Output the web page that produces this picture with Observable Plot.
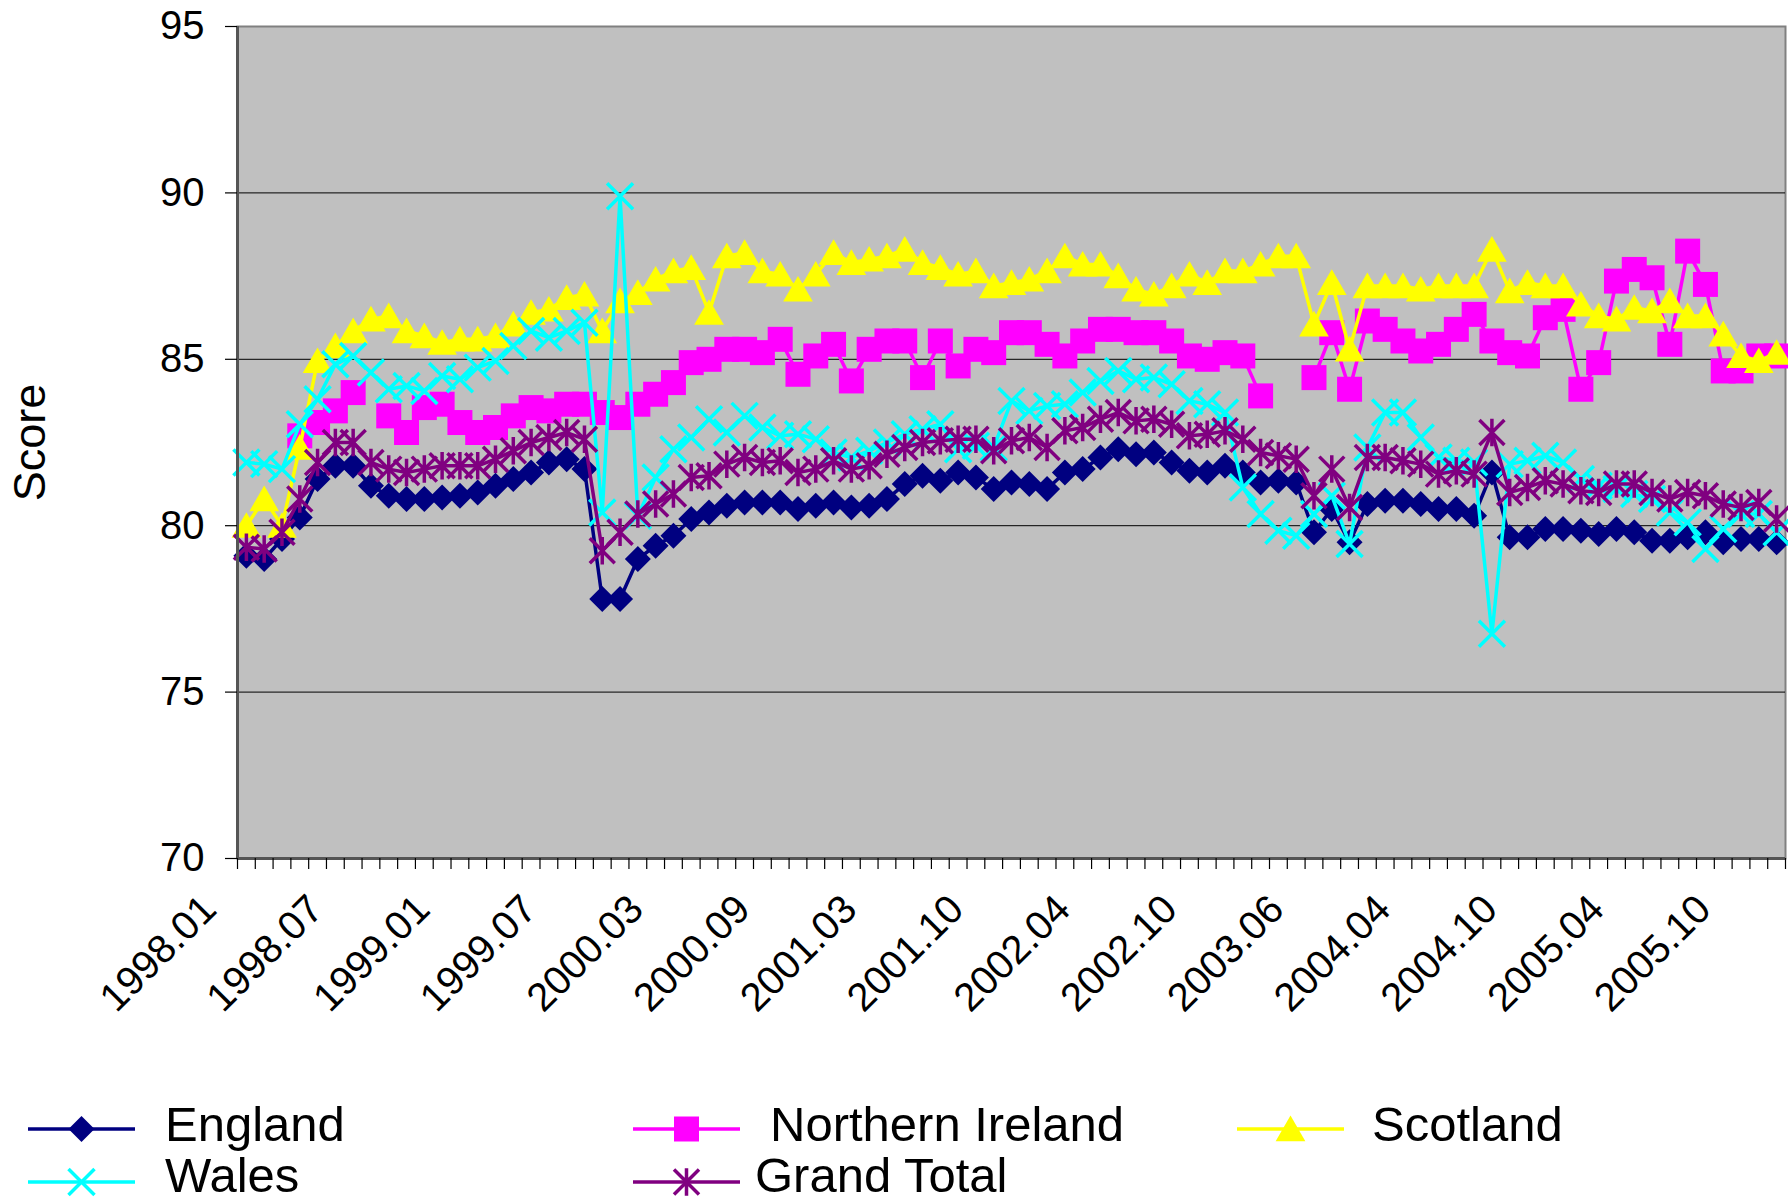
<!DOCTYPE html>
<html>
<head>
<meta charset="utf-8">
<script src="https://cdn.jsdelivr.net/npm/d3@7"></script>
<script src="https://cdn.jsdelivr.net/npm/@observablehq/plot@0.6"></script>
<style>
  html, body { margin: 0; padding: 0; background: #fff; }
  #wrap { width: 1788px; }
  svg { display: block; }
</style>
</head>
<body>
<div id="wrap"></div>
<script>
// ---------- data ----------
const months = [
  "1998.01","1998.02","1998.03","1998.04","1998.05","1998.06","1998.07","1998.08","1998.09","1998.10","1998.11","1998.12",
  "1999.01","1999.02","1999.03","1999.04","1999.05","1999.06","1999.07",
  "1999.08","1999.09","1999.10","1999.11","1999.12",
  "2000.03","2000.04","2000.05","2000.06","2000.07","2000.08","2000.09","2000.10","2000.11","2000.12","2001.01","2001.02","2001.03",
  "2001.04","2001.05","2001.06","2001.07","2001.09",
  "2001.10","2001.11","2001.12","2002.01","2002.02","2002.03","2002.04","2002.05","2002.06","2002.07","2002.08","2002.09","2002.10",
  "2002.11","2002.12","2003.01","2003.02","2003.03",
  "2003.06",
  "2003.07","2003.10","2004.01","2004.02","2004.03",
  "2004.04","2004.05","2004.06","2004.07","2004.08","2004.09","2004.10","2004.11","2004.12",
  "2005.01","2005.02","2005.03","2005.04","2005.05","2005.06","2005.07","2005.08","2005.09","2005.10","2005.11","2005.12"
];
const xTickLabels = ["1998.01","1998.07","1999.01","1999.07","2000.03","2000.09","2001.03","2001.10",
  "2002.04","2002.10","2003.06","2004.04","2004.10","2005.04","2005.10"];
const yTicks = [70, 75, 80, 85, 90, 95];
const seriesNames = ["England", "Northern Ireland", "Scotland", "Wales", "Grand Total"];

const england = [79.1, 79.0, 79.6, 80.25, 81.4, 81.8, 81.8, 81.2, 80.9, 80.8,
  80.8, 80.85, 80.9, 81.0, 81.2, 81.4, 81.6, 81.9, 82.0, 81.7,
  77.8, 77.8, 79.0, 79.4, 79.7, 80.2, 80.4, 80.6, 80.7, 80.7,
  80.7, 80.5, 80.6, 80.7, 80.55, 80.6, 80.8, 81.25, 81.5, 81.35,
  81.6, 81.45, 81.1, 81.3, 81.25, 81.1, 81.6, 81.7, 82.05, 82.3,
  82.15, 82.2, 81.9, 81.65, 81.6, 81.8, 81.6, 81.3, 81.35, 81.3,
  79.8, 80.5, 79.5, 80.65, 80.75, 80.75, 80.65, 80.5, 80.5, 80.3,
  81.6, 79.65, 79.65, 79.9, 79.9, 79.85, 79.75, 79.9, 79.8, 79.55,
  79.55, 79.65, 79.8, 79.5, 79.6, 79.6, 79.5];
const northernIreland = [null, null, null, 82.7, 83.1, 83.45, 84.0, null, 83.3, 82.8,
  83.55, 83.65, 83.1, 82.8, 82.95, 83.3, 83.55, 83.45, 83.65, 83.65,
  83.4, 83.25, 83.65, 83.95, 84.3, 84.9, 85.0, 85.3, 85.3, 85.2,
  85.6, 84.55, 85.1, 85.45, 84.35, 85.3, 85.55, 85.55, 84.45, 85.55,
  84.8, 85.3, 85.2, 85.8, 85.8, 85.45, 85.1, 85.55, 85.9, 85.9,
  85.8, 85.8, 85.55, 85.1, 85.0, 85.2, 85.1, 83.9, null, null,
  84.45, 85.8, 84.1, 86.15, 85.9, 85.55, 85.25, 85.45, 85.9, 86.35,
  85.55, 85.2, 85.1, 86.25, 86.5, 84.1, 84.9, 87.35, 87.7, 87.45,
  85.45, 88.25, 87.25, 84.65, 84.65, 85.1, 85.1];
const scotland = [80.0, 80.8, 80.0, 82.35, 84.95, 85.4, 85.85, 86.2, 86.3, 85.85,
  85.7, 85.5, 85.6, 85.6, 85.7, 86.05, 86.4, 86.5, 86.85, 86.95,
  85.85, 86.75, 87.0, 87.4, 87.65, 87.75, 86.4, 88.1, 88.2, 87.65,
  87.55, 87.1, 87.55, 88.2, 87.9, 88.0, 88.1, 88.3, 87.9, 87.75,
  87.55, 87.65, 87.2, 87.3, 87.4, 87.65, 88.1, 87.85, 87.85, 87.5,
  87.1, 86.95, 87.2, 87.55, 87.3, 87.65, 87.65, 87.85, 88.1, 88.1,
  86.05, 87.3, 85.3, 87.2, 87.2, 87.2, 87.1, 87.2, 87.2, 87.2,
  88.3, 87.05, 87.3, 87.2, 87.2, 86.65, 86.3, 86.2, 86.55, 86.45,
  86.75, 86.3, 86.3, 85.75, 85.1, 84.95, 85.2];
const wales = [81.9, 81.85, 81.7, 83.05, 83.8, 84.85, 85.1, 84.6, 84.1, 84.2,
  84.05, 84.5, 84.4, 84.75, 84.95, 85.4, 85.85, 85.65, 85.85, 86.1,
  80.4, 89.9, 80.3, 81.45, 82.3, 82.65, 83.2, 82.8, 83.3, 82.95,
  82.7, 82.75, 82.6, 82.2, 82.05, 82.25, 82.5, 82.75, 82.9, 83.05,
  82.3, 82.4, 82.35, 83.75, 83.45, 83.6, 83.65, 84.0, 84.35, 84.65,
  84.4, 84.45, 84.25, 83.75, 83.65, 83.4, 81.15, 80.35, 79.85, 79.7,
  80.35, 80.9, 79.45, 82.35, 83.4, 83.4, 82.65, 82.05, 81.95, 81.9,
  76.75, 81.85, 81.95, 82.1, 81.9, 81.4, 81.2, 81.1, 80.95, 80.8,
  80.4, 80.1, 79.3, 79.9, 80.35, 80.35, 79.8];
const grandTotal = [79.35, 79.3, 79.8, 80.8, 81.9, 82.5, 82.5, 81.9, 81.7, 81.6,
  81.7, 81.8, 81.8, 81.8, 82.0, 82.25, 82.5, 82.65, 82.8, 82.6,
  79.25, 79.8, 80.35, 80.65, 80.95, 81.45, 81.5, 81.85, 82.05, 81.9,
  81.95, 81.6, 81.7, 81.95, 81.7, 81.8, 82.15, 82.35, 82.5, 82.55,
  82.6, 82.6, 82.25, 82.55, 82.65, 82.35, 82.85, 82.95, 83.2, 83.4,
  83.15, 83.2, 83.05, 82.7, 82.75, 82.85, 82.6, 82.2, 82.1, 82.0,
  80.9, 81.7, 80.55, 82.05, 82.05, 81.95, 81.85, 81.55, 81.65, 81.55,
  82.8, 81.0, 81.15, 81.35, 81.25, 81.05, 81.0, 81.25, 81.25, 81.0,
  80.8, 81.0, 80.9, 80.65, 80.55, 80.7, 80.2];

// ---------- symbols (Excel-like markers) ----------
const rad = (size) => Math.sqrt(size / Math.PI);
const symDiamond = { draw(c, size) { const s = rad(size); c.moveTo(0, -s); c.lineTo(s, 0); c.lineTo(0, s); c.lineTo(-s, 0); c.closePath(); } };
const symSquare = { draw(c, size) { const s = rad(size); c.moveTo(-s, -s); c.lineTo(s, -s); c.lineTo(s, s); c.lineTo(-s, s); c.closePath(); } };
const symTriangle = { draw(c, size) { const s = rad(size); c.moveTo(0, -s); c.lineTo(s * 1.1, s * 0.9); c.lineTo(-s * 1.1, s * 0.9); c.closePath(); } };
const symTimes = { draw(c, size) { const s = rad(size); c.moveTo(-s, -s); c.lineTo(s, s); c.moveTo(s, -s); c.lineTo(-s, s); } };
const symStar = { draw(c, size) { const s = rad(size); c.moveTo(-s, -s); c.lineTo(s, s); c.moveTo(s, -s); c.lineTo(-s, s); c.moveTo(0, -s * 1.1); c.lineTo(0, s * 1.1); } };

const series = [
  { name: seriesNames[0], values: england, color: "#000080", symbol: symDiamond, r: 13, filled: true },
  { name: seriesNames[1], values: northernIreland, color: "#FF00FF", symbol: symSquare, r: 12.5, filled: true },
  { name: seriesNames[2], values: scotland, color: "#FFFF00", symbol: symTriangle, r: 13.5, filled: true },
  { name: seriesNames[3], values: wales, color: "#00FFFF", symbol: symTimes, r: 13, filled: false },
  { name: seriesNames[4], values: grandTotal, color: "#800080", symbol: symStar, r: 12.5, filled: false }
];

const N = months.length;
const FONT = "'Liberation Sans', Arial, Helvetica, sans-serif";

const seriesMarks = [];
for (const s of series) {
  const rows = months.map((m, i) => ({ i, m, v: s.values[i] }));
  seriesMarks.push(Plot.line(rows, { x: d => d.i + 0.5, y: d => d.v, stroke: s.color, strokeWidth: 3.5 }));
  seriesMarks.push(Plot.dot(rows.filter(d => d.v != null), {
    x: d => d.i + 0.5, y: d => d.v, symbol: () => s.symbol, r: s.r,
    fill: s.filled ? s.color : "none", stroke: s.filled ? "none" : s.color, strokeWidth: s.filled ? 0 : 3.5
  }));
}

const chart = Plot.plot({
  width: 1788,
  height: 1060,
  marginLeft: 237,
  marginRight: 3,
  marginTop: 26,
  marginBottom: 202,
  style: { fontFamily: FONT, background: "#fff", color: "#000", overflow: "visible" },
  x: { type: "linear", domain: [0, N], axis: null },
  y: { domain: [70, 95], axis: null },
  symbol: { type: "identity" },
  marks: [
    Plot.frame({ fill: "#C0C0C0", stroke: "#808080", strokeWidth: 2 }),
    Plot.gridY({ ticks: [75, 80, 85, 90], stroke: "#000", strokeOpacity: 1, strokeWidth: 1 }),
    ...seriesMarks,
    Plot.ruleX([0], { stroke: "#555", strokeWidth: 3 }),
    Plot.ruleY([70], { stroke: "#555", strokeWidth: 3 }),
    Plot.axisY({ ticks: yTicks, tickSize: 12, tickPadding: 21, fontSize: 40, label: null, stroke: "#000", strokeWidth: 1.2 }),
    Plot.axisX({ ticks: d3.range(N + 1), tickSize: 11, tickFormat: () => "", label: null, stroke: "#000", strokeWidth: 1.2 }),
    Plot.text(xTickLabels, {
      x: d => months.indexOf(d) + 0.5, frameAnchor: "bottom", text: d => d,
      rotate: -45, textAnchor: "end", fontSize: 40, dx: -28, dy: 53, fill: "#000"
    }),
    Plot.text(["Score"], { frameAnchor: "left", rotate: -90, textAnchor: "middle", dx: -207, fontSize: 45, fill: "#000", text: d => d })
  ]
});

const wrap = document.getElementById("wrap");
wrap.appendChild(chart);

// ---------- legend (below the chart) ----------
const legendItems = [
  { s: series[0], lx: 28, tx: 165, row: 0 },
  { s: series[1], lx: 633, tx: 770, row: 0 },
  { s: series[2], lx: 1237, tx: 1372, row: 0 },
  { s: series[3], lx: 28, tx: 165, row: 1 },
  { s: series[4], lx: 633, tx: 755, row: 1 }
];
const rowLine = [69, 122];
const rowBase = [81, 132];
const leg = d3.create("svg").attr("width", 1788).attr("height", 143).style("font-family", FONT);
for (const it of legendItems) {
  const g = leg.append("g");
  const y = rowLine[it.row];
  g.append("line").attr("x1", it.lx).attr("x2", it.lx + 107).attr("y1", y).attr("y2", y)
    .attr("stroke", it.s.color).attr("stroke-width", 3.5);
  const p = d3.path();
  it.s.symbol.draw(p, it.s.r * it.s.r * Math.PI);
  g.append("path").attr("d", p.toString()).attr("transform", `translate(${it.lx + 53.5},${y})`)
    .attr("fill", it.s.filled ? it.s.color : "none")
    .attr("stroke", it.s.filled ? "none" : it.s.color)
    .attr("stroke-width", 3.5);
  g.append("text").attr("x", it.tx).attr("y", rowBase[it.row]).attr("font-size", 49).attr("fill", "#000").text(it.s.name);
}
wrap.appendChild(leg.node());
</script>
</body>
</html>
